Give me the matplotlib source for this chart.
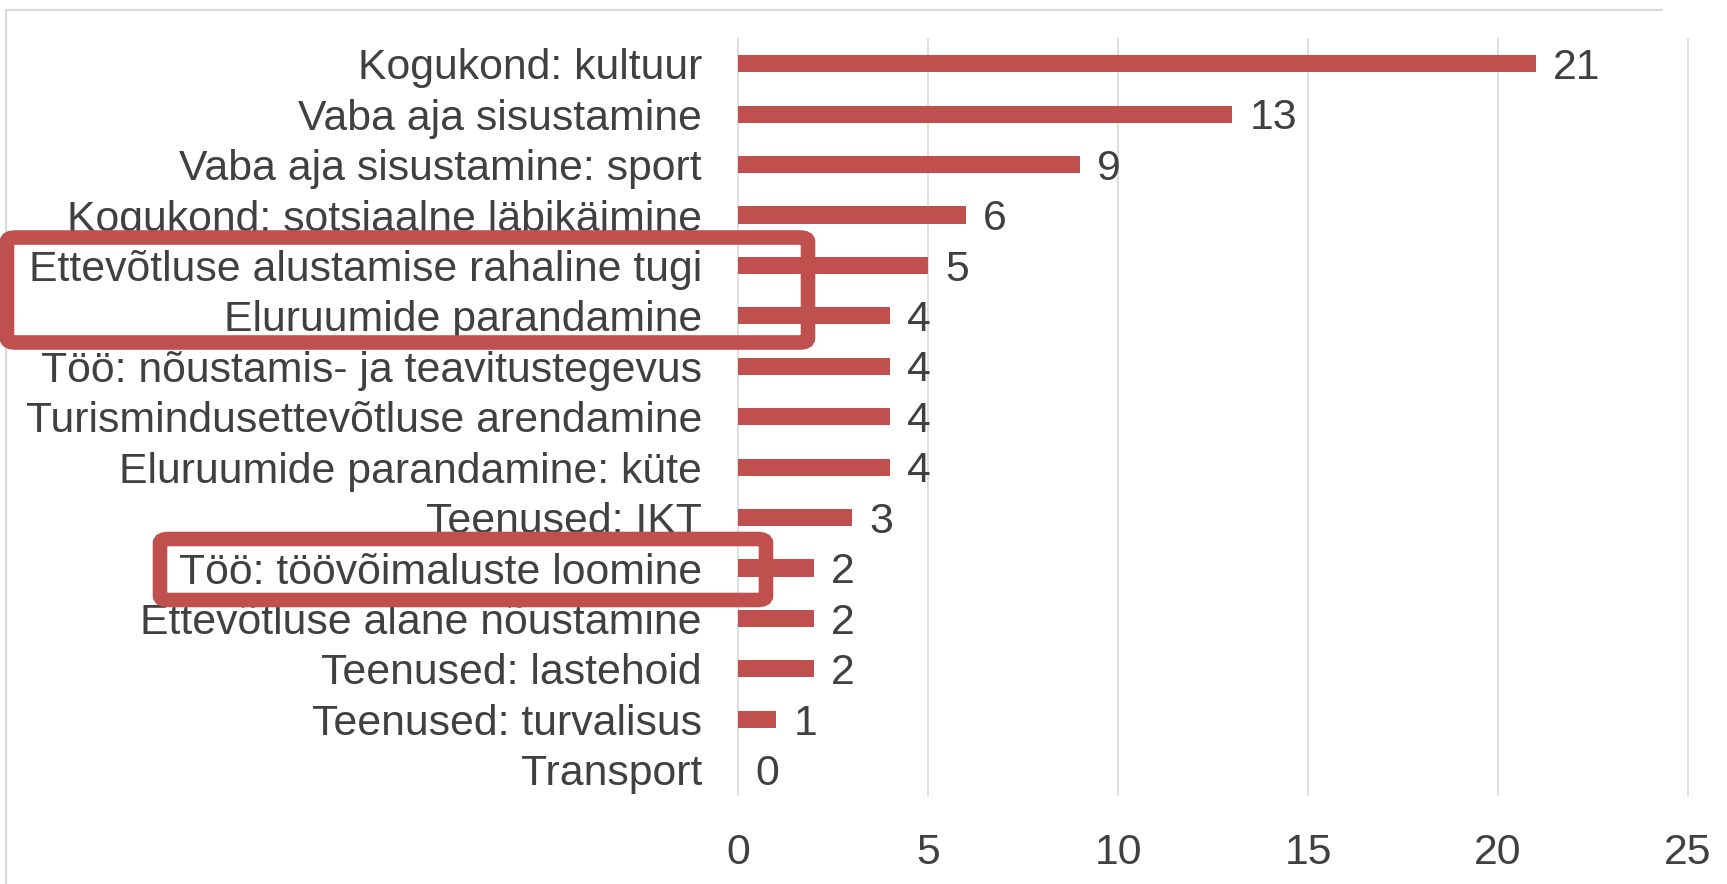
import matplotlib
matplotlib.use("Agg")
import matplotlib.pyplot as plt
from matplotlib.patches import FancyBboxPatch
from matplotlib.lines import Line2D
import numpy as np

categories = [
    "Kogukond: kultuur",
    "Vaba aja sisustamine",
    "Vaba aja sisustamine: sport",
    "Kogukond: sotsiaalne läbikäimine",
    "Ettevõtluse alustamise rahaline tugi",
    "Eluruumide parandamine",
    "Töö: nõustamis- ja teavitustegevus",
    "Turismindusettevõtluse arendamine",
    "Eluruumide parandamine: küte",
    "Teenused: IKT",
    "Töö: töövõimaluste loomine",
    "Ettevõtluse alane nõustamine",
    "Teenused: lastehoid",
    "Teenused: turvalisus",
    "Transport",
]
values = [21, 13, 9, 6, 5, 4, 4, 4, 4, 3, 2, 2, 2, 1, 0]
x_ticks = [0, 5, 10, 15, 20, 25]

W, H = 1727, 884
FS = 30.75
plt.rcParams['font.family'] = ['Liberation Sans', 'DejaVu Sans']
fig = plt.figure(figsize=(W / 100, H / 100), dpi=100)
fig.patch.set_facecolor('white')

ax = fig.add_axes([738 / W, 1 - 795 / H, (1688 - 738) / W, (795 - 38.5) / H])
y = np.arange(len(categories))
ax.barh(y, values, height=0.34, color='#C0504D', zorder=3)
ax.set_ylim(len(categories) - 0.5, -0.5)
ax.set_xlim(0, 25)
ax.set_xticks(x_ticks)
ax.set_xticklabels([str(t) for t in x_ticks])
ax.set_yticks(y)
ax.set_yticklabels(categories)
ax.tick_params(axis='both', length=0, labelsize=FS, labelcolor='#404040')
ax.tick_params(axis='y', pad=26)
ax.tick_params(axis='x', pad=27)
for s in ax.spines.values():
    s.set_visible(False)
ax.grid(axis='x', color='#d9d9d9', linewidth=1.2, zorder=0)
for gl in ax.get_xgridlines():
    gl.set_clip_on(False)
ax.set_axisbelow(True)

for yi, v in zip(y, values):
    ax.annotate(str(v), xy=(v, yi), xytext=(12.5, -3), textcoords='offset points',
                ha='left', va='center', fontsize=FS, color='#404040')

# outer chart border
def px(xp, yp):
    return xp / W, 1 - yp / H

bx0, by0 = px(6, 10)
fig.add_artist(Line2D([bx0, bx0], [0, by0], transform=fig.transFigure,
                      color='#d9d9d9', linewidth=1.5))
bx1, _ = px(1662, 10)
fig.add_artist(Line2D([bx0, bx1], [by0, by0], transform=fig.transFigure,
                      color='#d9d9d9', linewidth=1.5))

# red highlight rectangles (annotation overlays)
def rrect(x0, y0, x1, y1):
    fx0, fy1 = px(x0, y0)
    fx1, fy0 = px(x1, y1)
    p = FancyBboxPatch((fx0, fy0), fx1 - fx0, fy1 - fy0,
                       boxstyle="round,pad=0,rounding_size=0.005",
                       transform=fig.transFigure, fill=False,
                       edgecolor='#C0504D', linewidth=10.5, zorder=10)
    fig.add_artist(p)

rrect(7, 237.5, 808, 342.5)
rrect(160, 539, 766, 600)

fig.savefig("out.png", dpi=100, facecolor='white')
